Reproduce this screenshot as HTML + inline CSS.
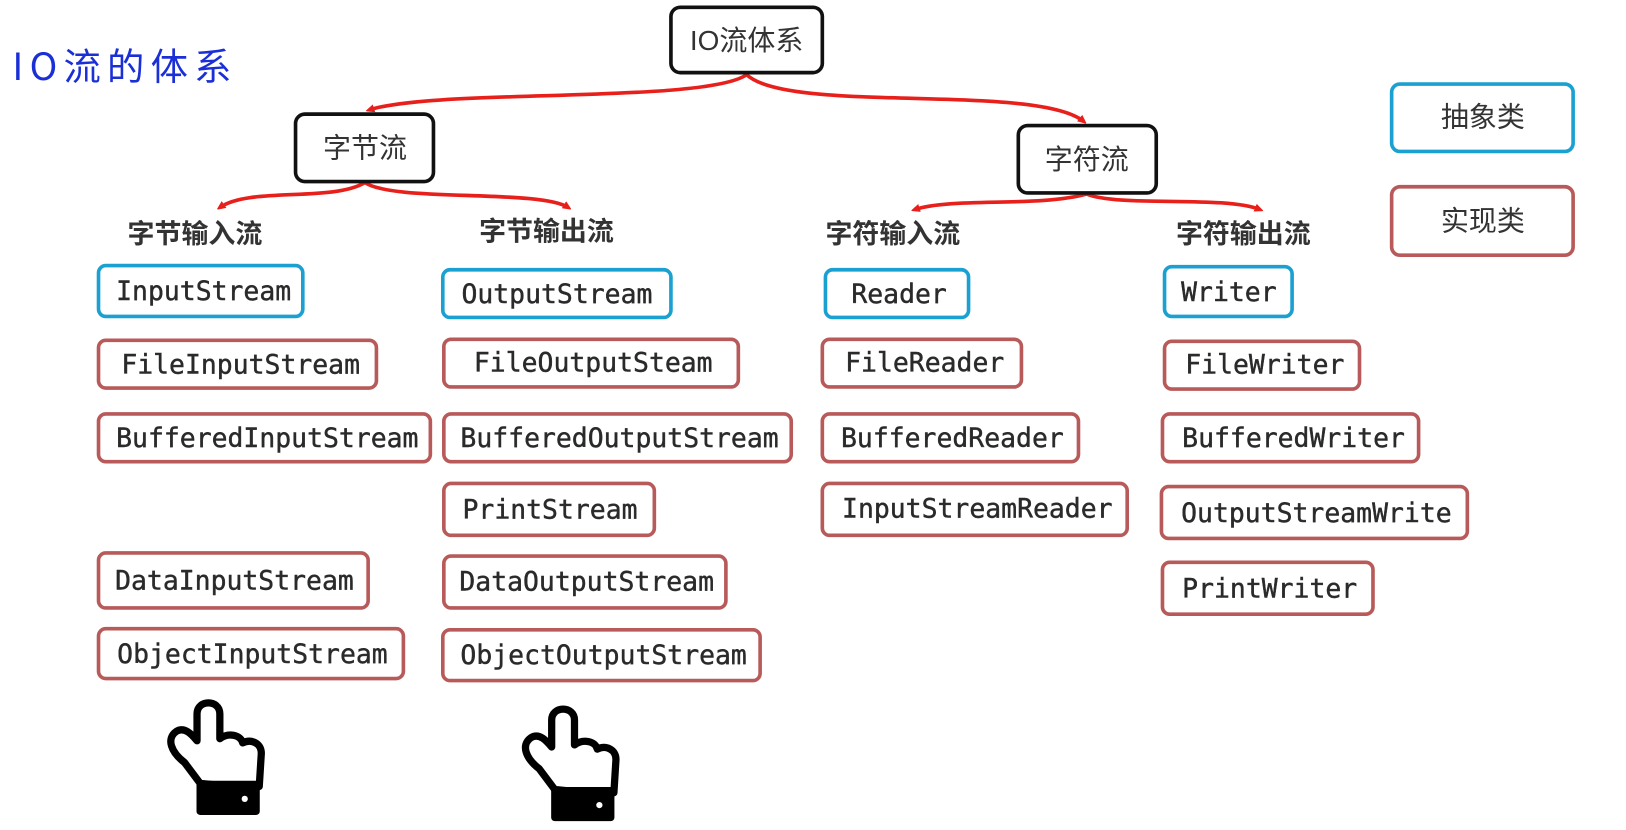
<!DOCTYPE html>
<html><head><meta charset="utf-8"><style>
html,body{margin:0;padding:0;background:#fff;}
svg{display:block}
.m{font-family:"DejaVu Sans Mono","Liberation Mono",monospace;font-size:25.5px;fill:#2a2a2a;stroke:#2a2a2a;stroke-width:0.4;}
.c{font-family:"Liberation Sans","Noto Sans CJK SC",sans-serif;fill:#333;}
</style></head><body>
<svg width="1626" height="830" viewBox="0 0 1568 800" preserveAspectRatio="none" xmlns="http://www.w3.org/2000/svg">
<defs><marker id="a" markerWidth="8" markerHeight="8" refX="5" refY="4" orient="auto" markerUnits="userSpaceOnUse"><path d="M0,0 L9,4 L0,8 z" fill="#e8201c"/></marker></defs>
<text x="12" y="77" font-family="'Noto Sans CJK SC',sans-serif" font-size="36" letter-spacing="6" fill="#1a2fd6">IO流的体系</text>
<g fill="none" stroke="#e8201c" stroke-width="3.5" marker-end="url(#a)">
<path d="M720,72 C680,100 420,85 356,106"/>
<path d="M720,72 C760,110 1000,80 1045,117"/>
<path d="M352,176 C320,195 240,180 212,200"/>
<path d="M352,176 C380,195 520,182 548,200"/>
<path d="M1048,187 C1000,200 920,190 882,202"/>
<path d="M1048,187 C1080,200 1180,188 1215,202"/>
</g>
<g fill="#fff" stroke="#111" stroke-width="3.5">
<rect x="647" y="7" width="146" height="63" rx="9"/>
<rect x="285" y="110" width="133" height="65" rx="9"/>
<rect x="982" y="121" width="133" height="65" rx="9"/>
</g>
<g fill="#fff" stroke="#1ba1d1" stroke-width="3.5">
<rect x="1342" y="81" width="175" height="65" rx="8"/>
<rect x="95" y="256" width="197" height="49" rx="7"/>
<rect x="427" y="260" width="220" height="46" rx="7"/>
<rect x="796" y="260" width="138" height="46" rx="7"/>
<rect x="1123" y="257" width="123" height="48" rx="7"/>
</g>
<g fill="#fff" stroke="#b85a5a" stroke-width="3.5">
<rect x="1342" y="180" width="175" height="66" rx="8"/>
<rect x="95" y="328" width="268" height="46" rx="7"/>
<rect x="95" y="399" width="320" height="46" rx="7"/>
<rect x="95" y="533" width="260" height="53" rx="7"/>
<rect x="95" y="606" width="294" height="48" rx="7"/>
<rect x="428" y="327" width="284" height="46" rx="7"/>
<rect x="428" y="399" width="335" height="46" rx="7"/>
<rect x="428" y="466" width="203" height="50" rx="7"/>
<rect x="428" y="536" width="272" height="50" rx="7"/>
<rect x="427" y="607" width="306" height="49" rx="7"/>
<rect x="793" y="327" width="192" height="46" rx="7"/>
<rect x="793" y="399" width="247" height="46" rx="7"/>
<rect x="793" y="466" width="294" height="50" rx="7"/>
<rect x="1123" y="329" width="188" height="46" rx="7"/>
<rect x="1121" y="399" width="247" height="46" rx="7"/>
<rect x="1120" y="469" width="295" height="50" rx="7"/>
<rect x="1121" y="542" width="203" height="50" rx="7"/>
</g>
<g class="c" font-size="27" text-anchor="middle">
<text x="720" y="48">IO流体系</text>
<text x="352" y="152">字节流</text>
<text x="1048" y="163">字符流</text>
<text x="1430" y="122">抽象类</text>
<text x="1430" y="222">实现类</text>
</g>
<g class="c" font-size="26" font-weight="bold">
<text x="123" y="234">字节输入流</text>
<text x="462" y="232">字节输出流</text>
<text x="796" y="234">字符输入流</text>
<text x="1134" y="234">字符输出流</text>
</g>
<g class="m">
<text x="112" y="289">InputStream</text>
<text x="117" y="360">FileInputStream</text>
<text x="112" y="431">BufferedInputStream</text>
<text x="111" y="568">DataInputStream</text>
<text x="113" y="639">ObjectInputStream</text>
<text x="445" y="292">OutputStream</text>
<text x="457" y="358">FileOutputSteam</text>
<text x="444" y="431">BufferedOutputStream</text>
<text x="446" y="500">PrintStream</text>
<text x="443" y="569">DataOutputStream</text>
<text x="444" y="640">ObjectOutputStream</text>
<text x="821" y="292">Reader</text>
<text x="815" y="358">FileReader</text>
<text x="811" y="431">BufferedReader</text>
<text x="812" y="499">InputStreamReader</text>
<text x="1139" y="290">Writer</text>
<text x="1143" y="360">FileWriter</text>
<text x="1140" y="431">BufferedWriter</text>
<text x="1139" y="503">OutputStreamWrite</text>
<text x="1140" y="576">PrintWriter</text>
</g>
<g id="h" fill="#fff" stroke="#000" stroke-width="7" stroke-linejoin="round">
<path d="M193,755 L178,735 C165,725 160,712 170,705 C178,700 185,708 190,714 L190,688 C190,674 212,674 212,688 L212,712 C220,706 232,708 234,716 C242,712 252,716 252,726 L250,758 L244,760 Z"/>
<rect x="193" y="756" width="54" height="26" fill="#000"/>
<circle cx="236" cy="770" r="3" fill="#fff" stroke="none"/>
</g>
<use href="#h" x="342" y="6"/>
</svg>
</body></html>
